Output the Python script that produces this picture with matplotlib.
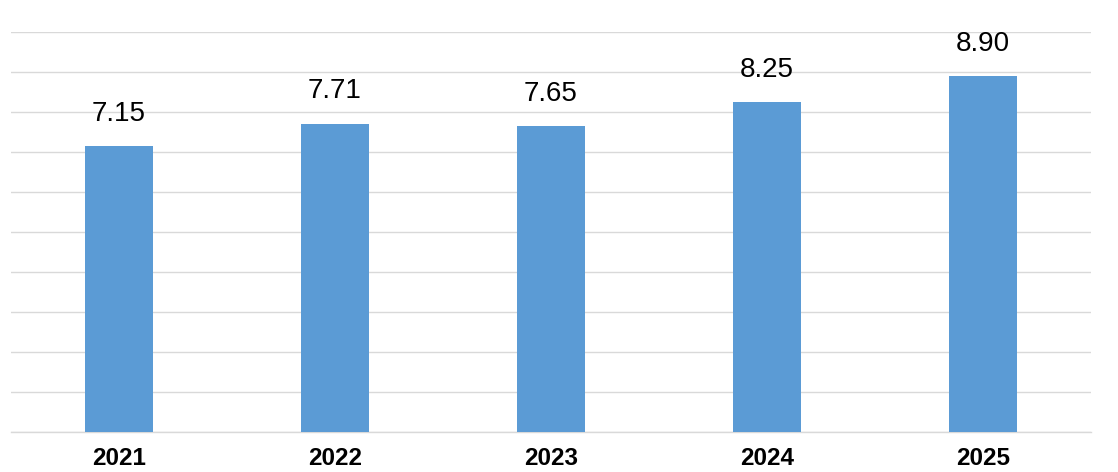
import matplotlib
matplotlib.use('Agg')
import matplotlib.pyplot as plt

years = ["2021", "2022", "2023", "2024", "2025"]
values = [7.15, 7.71, 7.65, 8.25, 8.90]

plt.rcParams['font.family'] = ['Liberation Sans', 'DejaVu Sans']

fig = plt.figure(figsize=(11.18, 4.72), dpi=100)
ax = fig.add_axes([11 / 1118, 40 / 472, 1080 / 1118, 400 / 472])

x = list(range(len(years)))
ax.bar(x, values, width=0.315, color='#5B9BD5', zorder=3)

for xi, v in zip(x, values):
    ax.annotate(f"{v:.2f}", (xi, v), xytext=(0, 14), textcoords='offset points',
                ha='center', va='bottom', fontsize=20, color='black')

ax.set_xlim(-0.5, len(years) - 0.5)
ax.set_ylim(0, 10)
ax.set_yticks(range(0, 11))
ax.set_yticklabels([])
ax.tick_params(axis='y', length=0)
ax.grid(axis='y', color='#d9d9d9', linewidth=1.0, zorder=0)
ax.set_axisbelow(True)

ax.set_xticks(x)
ax.set_xticklabels(years, fontsize=17.5, fontweight='bold')
ax.tick_params(axis='x', length=0, pad=11)

for side in ['top', 'right', 'left']:
    ax.spines[side].set_visible(False)
ax.spines['bottom'].set_color('#d9d9d9')
ax.spines['bottom'].set_linewidth(1.0)

fig.savefig('out.png', dpi=100)
